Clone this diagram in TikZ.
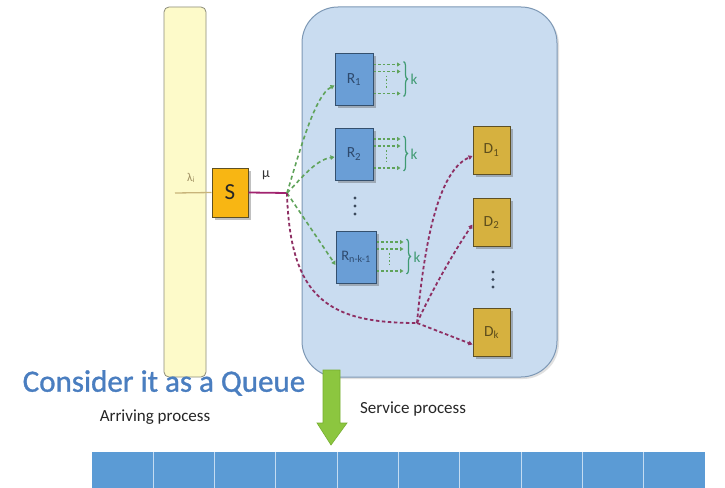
\documentclass[tikz,border=0pt]{standalone}
\usepackage{fontspec}
\setmainfont{Carlito}
\newfontfamily\titlefont{Carlito}[FakeBold=1]
\usetikzlibrary{shadows,arrows.meta,decorations.pathreplacing,calc}

\definecolor{colbg}{HTML}{C9DCF0}
\definecolor{colbgline}{HTML}{7D98B5}
\definecolor{colyel}{HTML}{FDFAC9}
\definecolor{colyelline}{HTML}{8C8C7A}
\definecolor{colR}{HTML}{6A9ED6}
\definecolor{colRline}{HTML}{34506E}
\definecolor{colRtext}{HTML}{2E4A6E}
\definecolor{colD}{HTML}{D6B13F}
\definecolor{colDline}{HTML}{5E5024}
\definecolor{colDtext}{HTML}{5E4E1C}
\definecolor{colS}{HTML}{F8B613}
\definecolor{colgreen}{HTML}{5FA35A}
\definecolor{colk}{HTML}{3F9A72}
\definecolor{colmag}{HTML}{8E2F63}
\definecolor{colmu}{HTML}{A1236F}
\definecolor{collam}{HTML}{C8B47A}
\definecolor{coltitle}{HTML}{4A7EC0}
\definecolor{colarrow}{HTML}{8CC63F}
\definecolor{colarrowline}{HTML}{76AE30}
\definecolor{colqueue}{HTML}{5B9BD5}
\definecolor{colqueueline}{HTML}{C4DCF2}
\definecolor{coldots}{HTML}{3C4A5C}

\tikzset{
  boxshadow/.style={drop shadow={shadow xshift=2.5pt,shadow yshift=-2.5pt,opacity=0.35,fill=black!70}},
  rbox/.style={draw=colRline,fill=colR,line width=1pt,minimum width=38pt,minimum height=52pt,
    inner sep=0pt,font=\fontsize{15.5}{15.5}\selectfont,text=colRtext,boxshadow},
  dbox/.style={draw=colDline,fill=colD,line width=1pt,minimum width=37pt,minimum height=48pt,
    inner sep=0pt,font=\fontsize{15.5}{15.5}\selectfont,text=colDtext,boxshadow},
  sbox/.style={draw=colDline,fill=colS,line width=1pt,minimum width=36pt,minimum height=49pt,
    inner sep=0pt,font=\fontsize{23}{23}\selectfont,text=black!85,boxshadow},
  gdash/.style={colgreen,line width=1.6pt,dash pattern=on 4pt off 3pt,
    -{Triangle[length=4pt,width=4.5pt]}},
  gsmall/.style={colgreen,line width=1.4pt,dash pattern=on 2.6pt off 2pt,
    -{Triangle[length=3.5pt,width=4pt]}},
  mdash/.style={colmag,line width=1.8pt,dash pattern=on 3.5pt off 2.5pt},
  mdasharrow/.style={mdash,-{Triangle[length=4pt,width=4.5pt]}},
  dotmark/.style={circle,fill=coldots,inner sep=0pt,minimum size=3.2pt},
  plainlabel/.style={font=\fontsize{17}{17}\selectfont,text=black!85,inner sep=0pt},
}

\begin{document}
\begin{tikzpicture}[x=1pt,y=-1pt]
\useasboundingbox (0,0) rectangle (725,487);
\fill[white] (0,0) rectangle (725,487);

% arrival column and service area
\draw[fill=colyel,draw=colyelline,line width=0.8pt,rounded corners=5pt] (164,7) rectangle (206,377);
\draw[fill=colbg,draw=colbgline,line width=1pt,rounded corners=36pt,
  drop shadow={shadow xshift=2pt,shadow yshift=-2pt,opacity=0.2,fill=black!60}] (302,7) rectangle (557,377);

% scheduler
\node[sbox] (S) at (230,192.5) {S};
\coordinate (lamstart) at (175,193);
\coordinate (B) at (287,193);
\draw[collam,line width=1.3pt] (lamstart) -- (S.west);
\node[text=collam!80!black,font=\fontsize{12}{12}\selectfont,inner sep=0pt] (lam) at (191,178) {λ\textsubscript{i}};
\draw[colmu,line width=1.8pt] (S.east) -- (B);
\node[text=black!80,font=\fontsize{14}{14}\selectfont,inner sep=0pt] (mu) at (266,175) {μ};

% replicas
\node[rbox] (R1) at (354,79.5) {R\textsubscript{1}};
\node[rbox] (R2) at (354,154) {R\textsubscript{2}};
\node[rbox,minimum width=40pt,font=\fontsize{14.5}{14.5}\selectfont] (R3) at (356,257) {R\textsubscript{n-k-1}};
\foreach \y in {198,206,214} \node[dotmark] at (355,\y) {};

% each replica fans out to k targets
\foreach \r in {R1,R2,R3}{
  \draw[gsmall] ([yshift=15pt]\r.east) -- ++(27,0);
  \draw[gsmall] ([yshift=8pt]\r.east) -- ++(27,0);
  \draw[gsmall] ([yshift=-14pt]\r.east) -- ++(27,0);
  \draw[colgreen,line width=1.3pt,dash pattern=on 1.5pt off 2pt] ([xshift=13pt,yshift=4pt]\r.east) -- ++(0,14);
  \draw[colk,line width=1.2pt,decorate,decoration={brace,amplitude=4pt}]
    ([xshift=30pt,yshift=18pt]\r.east) -- ([xshift=30pt,yshift=-17pt]\r.east);
  \node[text=colk,font=\fontsize{15}{15}\selectfont,inner sep=0pt,anchor=west] at ([xshift=37pt,yshift=0pt]\r.east) {k};
}

% data nodes
\node[dbox] (D1) at (491.5,150) {D\textsubscript{1}};
\node[dbox] (D2) at (491.5,222.5) {D\textsubscript{2}};
\node[dbox] (Dk) at (491.5,332.5) {D\textsubscript{k}};
\foreach \y in {272,279.5,287} \node[dotmark] at (493,\y) {};

% scheduler to replicas
\draw[gdash] (B) .. controls (300,150) and (315,95) .. ([yshift=-6pt]R1.west);
\draw[gdash] (B) .. controls (300,180) and (315,160) .. ([yshift=-3pt]R2.west);
\draw[gdash] (B) -- ([yshift=-8pt]R3.west);

% scheduler to data nodes via hub
\coordinate (H) at (417,323);
\draw[mdash] (B) .. controls (290,300) and (330,323) .. (H);
\draw[mdasharrow] (H) .. controls (425,235) and (440,170) .. ([yshift=-6pt]D1.west);
\draw[mdasharrow] (H) .. controls (432,290) and (455,250) .. ([yshift=-2pt]D2.west);
\draw[mdasharrow] (H) -- ([yshift=-12pt]Dk.west);

% title and labels
\node[text=coltitle,font=\titlefont\fontsize{31}{31}\selectfont,inner sep=0pt] (title) at (164,383) {Consider it as a Queue};
\node[plainlabel] (arr) at (155,417) {Arriving process};
\node[plainlabel] (srv) at (413,409) {Service process};

% down arrow into the queue
\draw[fill=colarrow,draw=colarrowline,line width=0.6pt]
  (323,370) -- (340,370) -- (340,423) -- (347,423) -- (331,445) -- (317,423) -- (323,423) -- cycle;

% queue
\fill[colqueue] (92,452) rectangle (705,490);
\foreach \i in {1,...,9} \draw[colqueueline,line width=1pt] ({92+\i*61.3},452) -- ({92+\i*61.3},490);
\end{tikzpicture}
\end{document}
